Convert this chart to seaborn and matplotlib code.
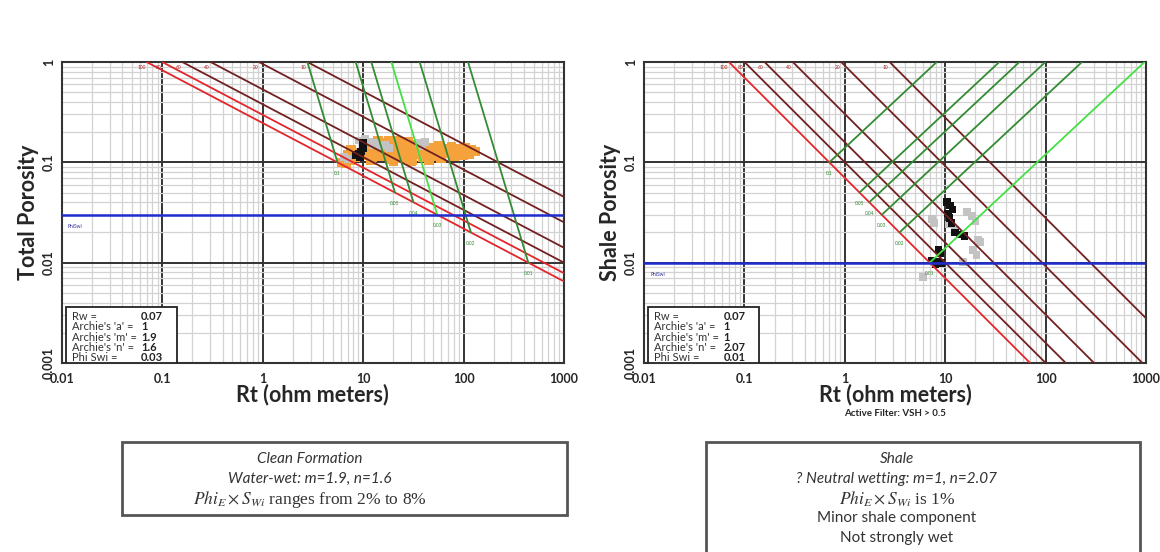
import numpy as np
import pandas as pd
import matplotlib.pyplot as plt
from matplotlib.patches import Rectangle
from matplotlib.ticker import LogLocator, NullFormatter
import seaborn as sns

# Archie parameters shown on each plot
rw = 0.07
archie_a = 1
clean_m, clean_n, clean_phiswi = 1.9, 1.6, 0.03
shale_m, shale_n, shale_phiswi = 1, 2.07, 0.01
sw_line_n = 1.6  # saturation lines on both plots are spaced with n = 1.6

sw_levels = [1.0, 0.8, 0.6, 0.4, 0.2, 0.1]
sw_labels = ["100", "80", "60", "40", "20", "10"]
bvw_levels = [0.1, 0.05, 0.04, 0.03, 0.02, 0.01]
bvw_labels = ["0.1", "0.05", "0.04", "0.03", "0.02", "0.01"]

x_ticks = [0.01, 0.1, 1, 10, 100, 1000]
x_tick_labels = ["0.01", "0.1", "1", "10", "100", "1000"]
y_ticks = [0.001, 0.01, 0.1, 1]
y_tick_labels = ["0.001", "0.01", "0.1", "1"]

# clean formation samples (Rt, porosity)
clean_orange_rt = [6.2, 6.6, 7.0, 7.4, 7.9, 8.3, 6.8, 7.6,
                   10.5, 11.0, 11.5, 12.2, 12.8, 13.5, 14.2, 15.0, 15.8, 16.6,
                   17.5, 18.5, 19.5, 20.5, 21.5, 22.5, 24, 25, 26.5, 28, 29.5,
                   31, 33, 35, 37, 39, 41, 44, 47, 50, 53, 57, 61, 65, 70, 76,
                   82, 89, 96, 104, 112, 120, 130, 14, 18, 22, 28, 12, 20, 30,
                   45, 60, 80, 100, 115]
clean_orange_phi = [0.100, 0.108, 0.118, 0.104, 0.125, 0.112, 0.097, 0.132,
                    0.128, 0.118, 0.138, 0.112, 0.126, 0.148, 0.132, 0.116, 0.142, 0.155,
                    0.125, 0.108, 0.140, 0.152, 0.116, 0.132, 0.146, 0.110, 0.156, 0.124, 0.140,
                    0.106, 0.150, 0.120, 0.136, 0.112, 0.148, 0.126, 0.140, 0.116, 0.132, 0.146,
                    0.122, 0.136, 0.128, 0.142, 0.124, 0.136, 0.128, 0.138, 0.126, 0.134, 0.128,
                    0.165, 0.165, 0.162, 0.160, 0.104, 0.102, 0.102, 0.106, 0.110, 0.114,
                    0.118, 0.120]
clean_gray_rt = [9.0, 10.5, 11.5, 12.5, 13.5, 15, 16.5, 18, 6.4, 7.0, 36, 39, 41]
clean_gray_phi = [0.165, 0.170, 0.160, 0.150, 0.155, 0.145, 0.150, 0.140, 0.112,
                  0.108, 0.155, 0.145, 0.160]
clean_black_rt = [10.0, 10.0, 10.0, 9.6, 9.0, 8.4, 9.3]
clean_black_phi = [0.158, 0.148, 0.138, 0.128, 0.122, 0.118, 0.113]

# shale samples (Rt, porosity)
shale_gray_rt = [16.6, 18.5, 20, 11, 12.5, 7.4, 7.8, 19, 20.5, 21, 22, 6.0, 15]
shale_gray_phi = [0.032, 0.029, 0.026, 0.024, 0.021, 0.027, 0.025, 0.0135, 0.012,
                  0.017, 0.016, 0.0072, 0.0102]
shale_black_rt = [10.4, 11.2, 11.8, 10.6, 11.0, 11.5, 12.5, 14, 15.5, 8.6, 9.0,
                  7.4, 8.2, 9.2, 8.0]
shale_black_phi = [0.040, 0.037, 0.034, 0.031, 0.028, 0.025, 0.020, 0.019, 0.0185,
                   0.0135, 0.0125, 0.0105, 0.0102, 0.0099, 0.0097]

RED = "#e3262b"
MAROON = "#722020"
GREEN = "#338c33"
BRIGHT = "#45e045"
BLUE = "#1f2ccf"

sns.set_theme(style="white")
plt.rcParams["font.family"] = ["Lato", "DejaVu Sans"]
plt.rcParams["mathtext.fontset"] = "stix"

fig = plt.figure(figsize=(11.6, 5.52), dpi=100)
ax1 = fig.add_axes([0.0532, 0.3424, 0.433, 0.5453])
ax2 = fig.add_axes([0.5552, 0.3424, 0.4328, 0.5453])


def pickett(ax, m, n, phiswi, n_red, points, params, ylabel):
    ax.set_xscale("log")
    ax.set_yscale("log")
    ax.set_xlim(0.01, 1000)
    ax.set_ylim(0.001, 1)
    ax.xaxis.set_minor_locator(LogLocator(base=10, subs=np.arange(2, 10)))
    ax.yaxis.set_minor_locator(LogLocator(base=10, subs=np.arange(2, 10)))
    ax.xaxis.set_minor_formatter(NullFormatter())
    ax.yaxis.set_minor_formatter(NullFormatter())
    ax.set_axisbelow(True)
    ax.grid(which="minor", color="#d2d2d2", lw=0.9)
    ax.grid(which="major", color="#333333", lw=1.4)
    for sp in ax.spines.values():
        sp.set_color("#333333")
        sp.set_linewidth(1.5)

    sns.scatterplot(data=points, x="rt", y="phi", hue="kind", style="kind",
                    markers={"orange": "s", "gray": "s", "black": "s"},
                    size="kind", sizes={"orange": 48, "gray": 32, "black": 30},
                    palette={"orange": "#f5a23c", "gray": "#c3c3c3", "black": "#111111"},
                    linewidth=0, legend=False, ax=ax, zorder=2)

    # saturation lines
    for i, (sw, lbl) in enumerate(zip(sw_levels, sw_labels)):
        rt0 = archie_a * rw / sw ** sw_line_n
        phis = np.array([1.0, 1e-4])
        rts = archie_a * rw / (phis ** m * sw ** sw_line_n)
        ax.plot(rts, phis, color=RED if i < n_red else MAROON, lw=1.3, zorder=3)
        ax.annotate(lbl, xy=(rt0, 1.0), xytext=(-1, -3), textcoords="offset pixels",
                    ha="right", va="top", fontsize=3.5, color="#a82020")

    # bulk volume water lines
    for c, lbl in zip(bvw_levels, bvw_labels):
        phis = np.array([1.0, c])
        rts = archie_a * rw * phis ** (n - m) / c ** n
        ax.plot(rts, phis, color=BRIGHT if c == phiswi else GREEN, lw=1.3, zorder=3)
        ax.annotate(lbl, xy=(rts[1], c), xytext=(0, -11), textcoords="offset pixels",
                    ha="center", va="center", fontsize=3.5, color=GREEN)

    ax.axhline(phiswi, color=BLUE, lw=1.8, zorder=3)
    ax.text(0.0115, phiswi / 1.3, "PhiSwi", fontsize=3.5, color="#2b2ba0", va="center")

    ax.set_xticks(x_ticks)
    ax.set_xticklabels(x_tick_labels)
    ax.set_yticks(y_ticks)
    ax.set_yticklabels(y_tick_labels)
    ax.tick_params(axis="both", which="both", length=0, labelsize=9)
    ax.tick_params(axis="x", pad=7)
    ax.tick_params(axis="y", pad=5, labelrotation=90)
    for t in ax.get_xticklabels() + ax.get_yticklabels():
        t.set_fontweight("bold")
    for t in ax.get_yticklabels():
        t.set_va("center")

    ax.set_xlabel("Rt (ohm meters)", fontsize=15.5, fontweight="bold")
    ax.set_ylabel(ylabel, fontsize=15.5, fontweight="bold")
    ax.xaxis.set_label_coords(0.5, -0.07)
    ax.yaxis.set_label_coords(-0.045, 0.5)

    # parameter box
    ax.add_patch(Rectangle((0.008, 0.0), 0.221, 0.186, transform=ax.transAxes,
                           facecolor="white", edgecolor="#222222", lw=1.3, zorder=5))
    rows_y = [0.153, 0.12, 0.086, 0.053, 0.017]
    for (k, v), yy in zip(params, rows_y):
        ax.text(0.02, yy, k, transform=ax.transAxes, fontsize=8, va="center",
                color="#333333", zorder=6)
        ax.text(0.158, yy, v, transform=ax.transAxes, fontsize=8, va="center",
                fontweight="bold", color="#222222", zorder=6)


clean_pts = pd.DataFrame({
    "rt": clean_orange_rt + clean_gray_rt + clean_black_rt,
    "phi": clean_orange_phi + clean_gray_phi + clean_black_phi,
    "kind": ["orange"] * len(clean_orange_rt) + ["gray"] * len(clean_gray_rt)
            + ["black"] * len(clean_black_rt),
})
shale_pts = pd.DataFrame({
    "rt": shale_gray_rt + shale_black_rt,
    "phi": shale_gray_phi + shale_black_phi,
    "kind": ["gray"] * len(shale_gray_rt) + ["black"] * len(shale_black_rt),
})

clean_params = [("Rw =", "0.07"), ("Archie's 'a' =", "1"), ("Archie's 'm' =", "1.9"),
                ("Archie's 'n' =", "1.6"), ("Phi Swi =", "0.03")]
shale_params = [("Rw =", "0.07"), ("Archie's 'a' =", "1"), ("Archie's 'm' =", "1"),
                ("Archie's 'n' =", "2.07"), ("Phi Swi =", "0.01")]

pickett(ax1, clean_m, clean_n, clean_phiswi, 2, clean_pts, clean_params, "Total Porosity")
pickett(ax2, shale_m, shale_n, shale_phiswi, 1, shale_pts, shale_params, "Shale Porosity")

fig.text(895 / 1160, 1 - 413 / 552, "Active Filter: VSH > 0.5", ha="center",
         va="center", fontsize=7, fontweight="bold")

# note boxes under the plots
fig.add_artist(Rectangle((122 / 1160, 1 - 515 / 552), 445 / 1160, 73 / 552,
                         transform=fig.transFigure, facecolor="white",
                         edgecolor="#555555", lw=2))
fig.add_artist(Rectangle((706 / 1160, -0.05), 434 / 1160, 1 - 442 / 552 + 0.05,
                         transform=fig.transFigure, facecolor="white",
                         edgecolor="#555555", lw=2))

serif = ["Liberation Serif", "DejaVu Serif"]
fig.text(310 / 1160, 1 - 459 / 552, "Clean Formation", ha="center", va="center",
         fontsize=11, style="italic", color="#333333")
fig.text(310 / 1160, 1 - 479 / 552, "Water-wet: m=1.9, n=1.6", ha="center", va="center",
         fontsize=11, style="italic", color="#333333")
fig.text(310 / 1160, 1 - 499 / 552, r"$Phi_E \times S_{Wi}$ ranges from 2% to 8%",
         ha="center", va="center", fontsize=12.5, family=serif, color="#333333")

fig.text(897 / 1160, 1 - 459 / 552, "Shale", ha="center", va="center",
         fontsize=11, style="italic", color="#333333")
fig.text(897 / 1160, 1 - 479 / 552, "? Neutral wetting: m=1, n=2.07", ha="center",
         va="center", fontsize=11, style="italic", color="#333333")
fig.text(897 / 1160, 1 - 499 / 552, r"$Phi_E \times S_{Wi}$ is 1%", ha="center",
         va="center", fontsize=12.5, family=serif, color="#333333")
fig.text(897 / 1160, 1 - 518 / 552, "Minor shale component", ha="center", va="center",
         fontsize=11, color="#333333")
fig.text(897 / 1160, 1 - 538 / 552, "Not strongly wet", ha="center", va="center",
         fontsize=11, color="#333333")

fig.savefig("out.png", dpi=100)
